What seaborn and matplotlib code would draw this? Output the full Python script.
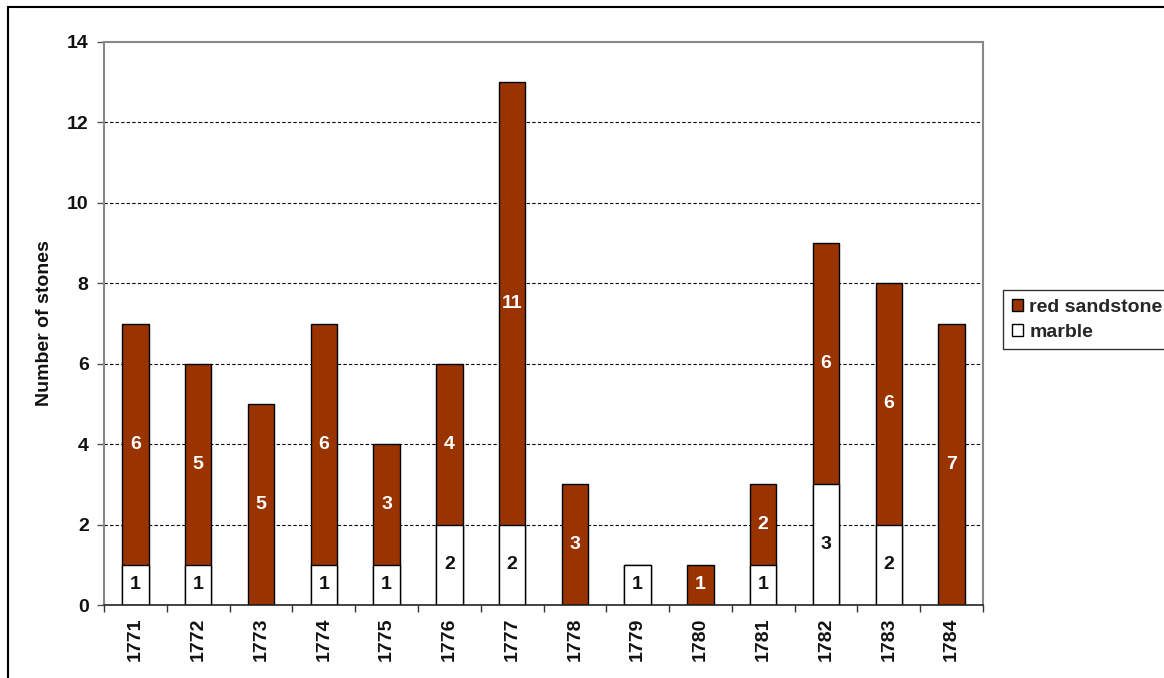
import matplotlib
matplotlib.use("Agg")
import matplotlib.pyplot as plt
from matplotlib.patches import Rectangle, Patch
import seaborn as sns
import pandas as pd
import numpy as np

years = ["1771", "1772", "1773", "1774", "1775", "1776", "1777",
         "1778", "1779", "1780", "1781", "1782", "1783", "1784"]
marble = [1, 1, 0, 1, 1, 2, 2, 0, 1, 0, 1, 3, 2, 0]
red_sandstone = [6, 5, 5, 6, 3, 4, 11, 3, 0, 1, 2, 6, 6, 7]
y_ticks = [0, 2, 4, 6, 8, 10, 12, 14]

RED = "#993300"

sns.set_theme(style="white")
plt.rcParams["font.family"] = ["Liberation Sans", "DejaVu Sans"]

df = pd.DataFrame({"year": years, "marble": marble, "red": red_sandstone})
df["total"] = df["marble"] + df["red"]

fig = plt.figure(figsize=(11.64, 6.78), dpi=100)
ax = fig.add_axes([104 / 1164, 1 - 605 / 678, (983 - 104) / 1164, (605 - 42) / 678])

# Stacked bars: full height in red, marble share painted white over the base
sns.barplot(data=df, x="year", y="total", color=RED, width=0.42,
            edgecolor="black", linewidth=1.0, saturation=1, ax=ax, zorder=3)
sns.barplot(data=df, x="year", y="marble", color="white", width=0.42,
            edgecolor="black", linewidth=1.0, saturation=1, ax=ax, zorder=4)

# Segment labels
for i, (m, r) in enumerate(zip(marble, red_sandstone)):
    if m > 0:
        ax.text(i, m / 2, str(m), ha="center", va="center", fontsize=14,
                fontweight="bold", color="#111111", zorder=5)
    if r > 0:
        ax.text(i, m + r / 2, str(r), ha="center", va="center", fontsize=14,
                fontweight="bold", color="white", zorder=5)

ax.set_xlim(-0.5, len(years) - 0.5)
ax.set_ylim(0, 14)
ax.set_yticks(y_ticks)
ax.set_yticklabels([str(t) for t in y_ticks], fontsize=14, fontweight="bold",
                   color="#111111")
ax.set_xticks(range(len(years)))
ax.set_xticklabels(years, rotation=90, fontsize=14, fontweight="bold", color="#111111")
ax.set_xticks(np.arange(-0.5, len(years)), minor=True)
ax.tick_params(axis="x", which="major", length=0, pad=9)
ax.tick_params(axis="x", which="minor", length=5, width=1, color="#333333", direction="out",
               bottom=True)
ax.tick_params(axis="y", which="major", length=5, width=1, color="#555555", direction="out",
               left=True, pad=6)
ax.set_xlabel("")
ax.set_ylabel("Number of stones", fontsize=14, fontweight="bold", labelpad=10,
              color="#111111")

for t in [2, 4, 6, 8, 10, 12]:
    ax.axhline(t, color="black", linestyle=(0, (3, 2)), linewidth=0.8, zorder=1)

for side in ["left", "top", "right"]:
    ax.spines[side].set_visible(True)
    ax.spines[side].set_color("#888888")
    ax.spines[side].set_linewidth(1.5)
ax.spines["bottom"].set_color("#222222")
ax.spines["bottom"].set_linewidth(1.2)
ax.spines["bottom"].set_zorder(6)

handles = [Patch(facecolor=RED, edgecolor="black", label="red sandstone"),
           Patch(facecolor="white", edgecolor="black", label="marble")]
leg = fig.legend(handles=handles, loc="upper left",
                 bbox_to_anchor=(1003 / 1164, 1 - 290 / 678),
                 prop={"size": 14, "weight": "bold"}, frameon=True, fancybox=False,
                 handlelength=0.6, handleheight=0.6, handletextpad=0.3,
                 borderpad=0.45, labelspacing=0.4, borderaxespad=0)
leg.get_frame().set_edgecolor("black")
leg.get_frame().set_linewidth(1.0)

# Chart-area frame
fig.patches.append(Rectangle((8 / 1164, -0.2), 2.0, 1.2 - 7 / 678,
                             transform=fig.transFigure, fill=False,
                             edgecolor="black", linewidth=1.5))

fig.savefig("out.png", dpi=100)
